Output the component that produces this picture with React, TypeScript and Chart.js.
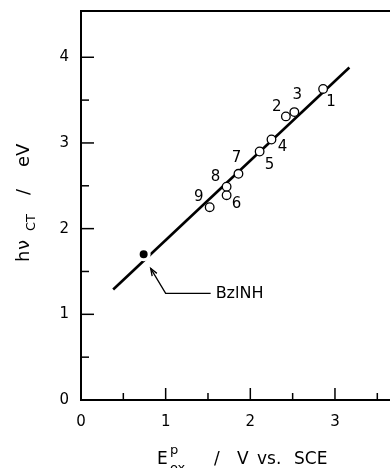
import React, { useEffect, useRef } from "react";
import { Chart, registerables } from "chart.js";

Chart.register(...registerables);

// Data
const pointLabels = ["1", "2", "3", "4", "5", "6", "7", "8", "9"];
const pointX = [2.86, 2.42, 2.52, 2.25, 2.11, 1.72, 1.86, 1.72, 1.52];
const pointY = [3.63, 3.31, 3.36, 3.04, 2.9, 2.39, 2.64, 2.49, 2.25];
const refLabel = "BzlNH";
const refX = [0.74];
const refY = [1.7];
const fitX = [0.38, 3.17];
const fitY = [1.29, 3.88];
const xTickMarks = [0.5, 1, 1.5, 2, 2.5, 3, 3.5];
const yTickMarks = [0.5, 1, 1.5, 2, 2.5, 3, 3.5, 4];

// label offsets (px) relative to each point
const labelOffsets: Record<string, [number, number]> = {
  "1": [8, 13],
  "2": [-9, -9],
  "3": [3, -17],
  "4": [11, 8],
  "5": [10, 14],
  "6": [10, 9],
  "7": [-2, -16],
  "8": [-11, -10],
  "9": [-11, -10],
};

const FONT = "DejaVu Sans";

const zeroPad = (s: any) => {
  s.paddingTop = 0;
  s.paddingBottom = 0;
  s.paddingLeft = 0;
  s.paddingRight = 0;
};

const decorPlugin = {
  id: "decor",
  afterDatasetsDraw(chart: any) {
    const { ctx, chartArea, scales } = chart;
    const xs = scales.x;
    const ys = scales.y;
    ctx.save();
    ctx.strokeStyle = "#000";
    ctx.fillStyle = "#000";
    ctx.lineCap = "butt";

    // top border
    ctx.lineWidth = 2;
    ctx.beginPath();
    ctx.moveTo(chartArea.left - 1, chartArea.top);
    ctx.lineTo(chartArea.right, chartArea.top);
    ctx.stroke();

    // inner tick marks
    ctx.lineWidth = 1.5;
    xTickMarks.forEach((v) => {
      const px = xs.getPixelForValue(v);
      const len = Number.isInteger(v) ? 12 : 7;
      ctx.beginPath();
      ctx.moveTo(px, chartArea.bottom);
      ctx.lineTo(px, chartArea.bottom - len);
      ctx.stroke();
    });
    yTickMarks.forEach((v) => {
      const py = ys.getPixelForValue(v);
      const len = Number.isInteger(v) ? 13 : 8;
      ctx.beginPath();
      ctx.moveTo(chartArea.left, py);
      ctx.lineTo(chartArea.left + len, py);
      ctx.stroke();
    });

    // point labels
    ctx.font = `15px "${FONT}"`;
    ctx.textAlign = "center";
    ctx.textBaseline = "middle";
    pointLabels.forEach((lab, i) => {
      const px = xs.getPixelForValue(pointX[i]);
      const py = ys.getPixelForValue(pointY[i]);
      const [dx, dy] = labelOffsets[lab];
      ctx.fillText(lab, px + dx, py + dy);
    });

    // arrow to reference point
    const rx = xs.getPixelForValue(refX[0]);
    const ry = ys.getPixelForValue(refY[0]);
    const tip = [rx + 7, ry + 14];
    const elbow = [rx + 22, ry + 39];
    const end = [rx + 67, ry + 39];
    ctx.lineWidth = 1.3;
    ctx.beginPath();
    ctx.moveTo(end[0], end[1]);
    ctx.lineTo(elbow[0], elbow[1]);
    ctx.lineTo(tip[0], tip[1]);
    ctx.stroke();
    const ang = Math.atan2(tip[1] - elbow[1], tip[0] - elbow[0]);
    const ah = 8;
    ctx.beginPath();
    ctx.moveTo(tip[0] + Math.cos(ang + Math.PI - 0.35) * ah, tip[1] + Math.sin(ang + Math.PI - 0.35) * ah);
    ctx.lineTo(tip[0], tip[1]);
    ctx.lineTo(tip[0] + Math.cos(ang + Math.PI + 0.35) * ah, tip[1] + Math.sin(ang + Math.PI + 0.35) * ah);
    ctx.stroke();
    ctx.textAlign = "left";
    ctx.font = `16px "${FONT}"`;
    ctx.fillText(refLabel, end[0] + 5, end[1] + 1);

    // y axis title (rotated), pieces placed along the axis
    const big = `18px "${FONT}"`;
    const small = `13px "${FONT}"`;
    ctx.save();
    ctx.translate(23, 262);
    ctx.rotate(-Math.PI / 2);
    ctx.textBaseline = "alphabetic";
    ctx.textAlign = "left";
    const base = 6;
    ctx.font = big;
    ctx.fillText("h", 0, base);
    ctx.fillText("ν", 12, base);
    ctx.font = small;
    ctx.fillText("CT", 31, base + 6);
    ctx.font = big;
    ctx.fillText("/", 67, base);
    ctx.fillText("eV", 95, base);
    ctx.restore();

    // x axis title
    ctx.textBaseline = "alphabetic";
    ctx.textAlign = "left";
    ctx.font = `17px "${FONT}"`;
    const eb = 464;
    ctx.fillText("E", 157, eb);
    ctx.font = small;
    ctx.fillText("p", 170, eb - 10);
    ctx.fillText("ox", 170, eb + 8);
    ctx.font = `17px "${FONT}"`;
    ctx.fillText("/", 214, eb);
    ctx.fillText("V", 237, eb);
    ctx.fillText("vs.", 257, eb);
    ctx.fillText("SCE", 294, eb);

    ctx.restore();
  },
};

export default function App() {
  const ref = useRef<HTMLCanvasElement | null>(null);
  useEffect(() => {
    if (!ref.current) return;
    const chart = new Chart(ref.current, {
      type: "scatter",
      data: {
        datasets: [
          {
            label: "compounds",
            data: pointX.map((x, i) => ({ x, y: pointY[i] })),
            pointRadius: 4.3,
            pointBackgroundColor: "#fff",
            pointBorderColor: "#000",
            pointBorderWidth: 1.3,
            showLine: false,
          },
          {
            label: refLabel,
            data: refX.map((x, i) => ({ x, y: refY[i] })),
            pointRadius: 5.5,
            pointBackgroundColor: "#000",
            pointBorderColor: "#fff",
            pointBorderWidth: 3,
            showLine: false,
          },
          {
            label: "fit",
            type: "line",
            data: fitX.map((x, i) => ({ x, y: fitY[i] })),
            borderColor: "#000",
            borderWidth: 2.6,
            pointRadius: 0,
            fill: false,
          } as any,
        ],
      },
      options: {
        responsive: false,
        animation: false,
        layout: { autoPadding: false, padding: { top: 11, left: 0, right: 0, bottom: 0 } },
        plugins: { legend: { display: false }, tooltip: { enabled: false } },
        scales: {
          x: {
            type: "linear",
            min: 0,
            max: 3.65,
            grid: { display: false },
            border: { display: true, color: "#000", width: 2 },
            ticks: {
              stepSize: 1,
              includeBounds: false,
              color: "#000",
              font: { family: FONT, size: 15 },
              padding: 5,
              maxRotation: 0,
            },
            afterFit: (s: any) => {
              s.height = 68;
              zeroPad(s);
            },
          },
          y: {
            type: "linear",
            min: 0,
            max: 4.54,
            grid: { display: false },
            border: { display: true, color: "#000", width: 2 },
            ticks: {
              stepSize: 1,
              includeBounds: false,
              color: "#000",
              font: { family: FONT, size: 15 },
              padding: 4,
            },
            afterFit: (s: any) => {
              s.width = 81;
              zeroPad(s);
            },
          },
        },
      },
      plugins: [decorPlugin],
    });
    return () => chart.destroy();
  }, []);
  return (
    <div style={{ position: "fixed", left: 0, top: 0, width: 390, height: 468, background: "#fff" }}>
      <canvas ref={ref} width={390} height={468} style={{ display: "block" }} />
    </div>
  );
}
